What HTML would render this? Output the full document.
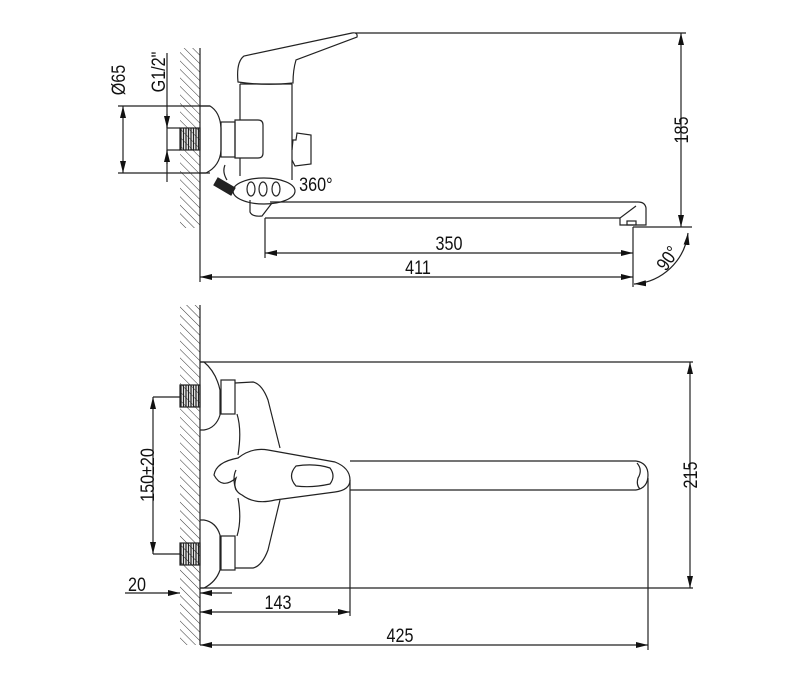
<!DOCTYPE html>
<html><head><meta charset="utf-8"><style>
html,body{margin:0;padding:0;background:#fff;width:800px;height:680px;overflow:hidden}
svg{display:block}
text{font-family:"Liberation Sans",sans-serif;font-size:19px;fill:#111}
</style></head><body>
<svg width="800" height="680" viewBox="0 0 800 680" xmlns="http://www.w3.org/2000/svg">
<defs>
<pattern id="h" width="6" height="6" patternUnits="userSpaceOnUse" patternTransform="rotate(-45)">
<line x1="0" y1="0" x2="0" y2="6" stroke="#333" stroke-width="1"/>
</pattern>
<pattern id="t" width="2.5" height="10" patternUnits="userSpaceOnUse">
<line x1="1" y1="0" x2="1" y2="10" stroke="#222" stroke-width="1.3"/>
</pattern>
<marker id="a" markerWidth="12" markerHeight="6" refX="12" refY="3" orient="auto" markerUnits="userSpaceOnUse">
<path d="M0,0 L12,3 L0,6 Z" fill="#111"/>
</marker>
<marker id="s" markerWidth="12" markerHeight="6" refX="0" refY="3" orient="auto" markerUnits="userSpaceOnUse">
<path d="M12,0 L0,3 L12,6 Z" fill="#111"/>
</marker>
</defs>
<g fill="none" stroke="#222" stroke-width="1.2">
<rect x="180" y="48" width="20" height="180" fill="url(#h)" stroke="none"/>
<line x1="200" y1="48" x2="200" y2="282"/>
<rect x="180" y="128" width="20" height="22" fill="url(#t)" stroke="#222"/>
<line x1="118" y1="106" x2="210" y2="106"/>
<line x1="118" y1="173" x2="210" y2="173"/>
<line x1="123" y1="106" x2="123" y2="173" marker-start="url(#s)" marker-end="url(#a)"/>
<line x1="167" y1="53" x2="167" y2="182"/>
<line x1="167" y1="128" x2="180" y2="128"/><line x1="167" y1="150" x2="180" y2="150"/>
<line x1="167" y1="114" x2="167" y2="128" marker-end="url(#a)"/>
<line x1="167" y1="164" x2="167" y2="150" marker-end="url(#a)"/>
<path d="M200,106 L210,106 Q220,112 221,128 L221,150 Q220,166 206,173 L200,173"/>
<rect x="221" y="122" width="14" height="35"/>
<path d="M235,120 L258,120 Q263,120 263,125 L263,153 Q263,158 258,158 L235,158 Z"/>
<path d="M240,84 L240,120 M240,158 L240,176 M292,84 L292,180"/>
<path d="M240,84 L292,84"/>
<path d="M238,82 Q236,62 244,56 L352,33 Q358,32 357,37 L296,60 Q293,70 293,83 Q265,86 238,82 Z"/>
<path d="M292,150 L293,140 L296,140 L297,133 L311,135 L311,164 L295,166 L292,160"/>
<path d="M225,165 Q222,172 227,180"/>
<path d="M218,178 L235,188 L231,195 L214,185 Z" fill="#222"/>
<ellipse cx="264" cy="191" rx="31" ry="13"/>
<ellipse cx="251" cy="189" rx="4" ry="7"/><ellipse cx="263" cy="189" rx="4" ry="7"/><ellipse cx="276" cy="189" rx="4" ry="7"/>
<path d="M250,200 L250,212 Q252,217 262,216 L272,203"/>
<line x1="270" y1="202" x2="638" y2="202"/>
<line x1="265" y1="218" x2="620" y2="218"/>
<path d="M638,202 Q645,202 646,208 L646,225 L620,225 L620,218 Q628,212 636,206"/>
<rect x="627" y="221" width="9" height="4"/>
<line x1="355" y1="33" x2="686" y2="33"/>
<line x1="633" y1="227" x2="692" y2="227"/>
<line x1="681" y1="33" x2="681" y2="227" marker-start="url(#s)" marker-end="url(#a)"/>
<line x1="265" y1="218" x2="265" y2="258"/>
<line x1="633" y1="227" x2="633" y2="287"/>
<line x1="265" y1="253" x2="633" y2="253" marker-start="url(#s)" marker-end="url(#a)"/>
<line x1="200" y1="277" x2="633" y2="277" marker-start="url(#s)" marker-end="url(#a)"/>
<path d="M688,233 A58,58 0 0 1 634,284" marker-start="url(#s)" marker-end="url(#a)"/>
<rect x="180" y="305" width="20" height="340" fill="url(#h)" stroke="none"/>
<line x1="200" y1="305" x2="200" y2="645"/>
<rect x="180" y="385" width="20" height="22" fill="url(#t)" stroke="#222"/>
<rect x="180" y="543" width="20" height="22" fill="url(#t)" stroke="#222"/>
<line x1="200" y1="362" x2="693" y2="362"/>
<line x1="200" y1="588" x2="693" y2="588"/>
<line x1="690" y1="362" x2="690" y2="588" marker-start="url(#s)" marker-end="url(#a)"/>
<line x1="153" y1="397" x2="180" y2="397"/><line x1="153" y1="554" x2="180" y2="554"/>
<line x1="153" y1="397" x2="153" y2="554" marker-start="url(#s)" marker-end="url(#a)"/>
<path d="M200,362 L204,362 Q216,372 220,390 L220,415 Q216,428 204,430 L200,430"/>
<path d="M200,520 L204,520 Q216,522 220,535 L220,570 Q216,582 204,588 L200,588"/>
<rect x="221" y="380" width="14" height="34"/><rect x="221" y="536" width="14" height="34"/>
<path d="M235,383 L253,382 Q262,384 268,400 L280,448"/>
<path d="M235,568 L253,568 Q262,566 268,550 L280,500"/>
<path d="M237,414 Q242,430 238,455 M237,536 Q242,520 238,498"/>
<path d="M238,458 Q252,447 268,450 L335,462 Q350,468 350,480 Q350,490 335,492 L275,500 Q255,505 242,495 Q232,490 236,478 Q222,490 214,475 Q216,462 238,458 Z"/>
<path d="M236,470 Q232,478 236,490"/>
<path d="M296,466 Q315,463 330,468 Q336,476 330,484 Q312,488 296,486 Q287,476 296,466 Z"/>
<line x1="350" y1="461" x2="636" y2="461"/>
<line x1="350" y1="490" x2="636" y2="490"/>
<path d="M636,461 Q648,463 648,475 Q648,488 636,490"/>
<path d="M637,463 Q643,470 638,478 Q636,485 640,489"/>
<line x1="350" y1="480" x2="350" y2="616"/>
<line x1="648" y1="478" x2="648" y2="650"/>
<line x1="125" y1="593" x2="180" y2="593" marker-end="url(#a)"/>
<line x1="232" y1="593" x2="200" y2="593" marker-end="url(#a)"/>
<line x1="200" y1="612" x2="350" y2="612" marker-start="url(#s)" marker-end="url(#a)"/>
<line x1="200" y1="645" x2="648" y2="645" marker-start="url(#s)" marker-end="url(#a)"/>
</g>
<text transform="translate(125,80) rotate(-90) scale(0.85,1)" text-anchor="middle">Ø65</text>
<text transform="translate(165,72) rotate(-90) scale(0.85,1)" text-anchor="middle">G1/2"</text>
<text x="299" y="191" font-size="15" transform="translate(45,0) scale(0.85,1)">360°</text>
<text transform="translate(688,130) rotate(-90) scale(0.85,1)" text-anchor="middle">185</text>
<text transform="translate(449,250) scale(0.85,1)" text-anchor="middle">350</text>
<text transform="translate(418,274) scale(0.85,1)" text-anchor="middle">411</text>
<text transform="translate(673,262) rotate(-55) scale(0.85,1)" text-anchor="middle">90°</text>
<text transform="translate(697,475) rotate(-90) scale(0.85,1)" text-anchor="middle">215</text>
<text transform="translate(154,475) rotate(-90) scale(0.85,1)" text-anchor="middle">150±20</text>
<text transform="translate(137,591) scale(0.85,1)" text-anchor="middle">20</text>
<text transform="translate(278,609) scale(0.85,1)" text-anchor="middle">143</text>
<text transform="translate(400,642) scale(0.85,1)" text-anchor="middle">425</text>
</svg>
</body></html>
